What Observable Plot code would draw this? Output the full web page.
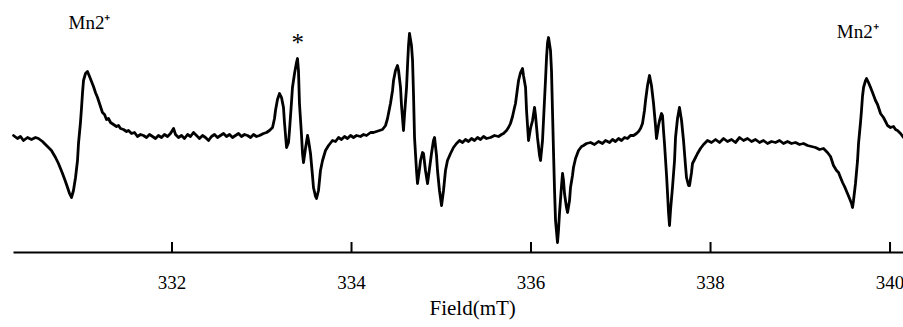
<!DOCTYPE html>
<html>
<head>
<meta charset="utf-8">
<script src="https://cdn.jsdelivr.net/npm/d3@7"></script>
<script src="https://cdn.jsdelivr.net/npm/@observablehq/plot@0.6"></script>
<style>
  html, body { margin: 0; padding: 0; background: #fff; }
  #chart svg { display: block; }
  #chart svg text { font-family: 'Liberation Serif', 'Times New Roman', serif; }
</style>
</head>
<body>
<div id="chart"></div>
<script>
// Magnetic field (mT) of each sampled point of the EPR trace
const field = [
330.234,330.278,330.312,330.345,330.390,330.434,330.479,330.512,330.557,330.590,
330.624,330.657,330.702,330.735,330.780,330.813,330.836,330.858,330.880,330.902,
330.925,330.947,330.958,330.980,330.992,331.003,331.014,331.036,331.058,331.081,
331.103,331.125,331.147,331.170,331.192,331.225,331.248,331.270,331.292,331.315,
331.348,331.381,331.404,331.426,331.459,331.493,331.515,331.549,331.582,331.615,
331.649,331.682,331.716,331.749,331.783,331.816,331.849,331.883,331.916,331.950,
331.983,332.017,332.039,332.072,332.106,332.139,332.173,332.206,332.239,332.273,
332.306,332.340,332.373,332.407,332.440,332.473,332.507,332.540,332.574,332.607,
332.641,332.674,332.707,332.741,332.774,332.808,332.841,332.875,332.908,332.941,
332.975,333.019,333.053,333.086,333.120,333.142,333.153,333.175,333.198,333.220,
333.242,333.253,333.276,333.298,333.309,333.331,333.342,333.365,333.387,333.398,
333.409,333.420,333.443,333.454,333.465,333.487,333.510,333.521,333.543,333.565,
333.576,333.599,333.610,333.632,333.654,333.677,333.710,333.744,333.788,333.822,
333.855,333.888,333.922,333.955,333.989,334.022,334.056,334.100,334.134,334.167,
334.212,334.245,334.278,334.312,334.345,334.379,334.401,334.423,334.434,334.457,
334.468,334.490,334.512,334.524,334.546,334.557,334.579,334.590,334.613,334.624,
334.635,334.646,334.668,334.680,334.691,334.702,334.724,334.735,334.758,334.769,
334.791,334.802,334.824,334.847,334.869,334.891,334.913,334.925,334.947,334.958,
334.980,335.003,335.025,335.047,335.069,335.103,335.136,335.170,335.203,335.237,
335.270,335.303,335.337,335.370,335.404,335.437,335.471,335.504,335.549,335.593,
335.638,335.671,335.693,335.727,335.749,335.771,335.794,335.816,335.827,335.849,
335.861,335.883,335.905,335.916,335.939,335.950,335.972,335.994,336.017,336.039,
336.050,336.072,336.095,336.106,336.128,336.139,336.161,336.173,336.184,336.195,
336.217,336.228,336.239,336.251,336.262,336.273,336.295,336.306,336.317,336.340,
336.351,336.362,336.373,336.395,336.407,336.429,336.440,336.462,336.473,336.496,
336.529,336.563,336.585,336.618,336.663,336.707,336.752,336.796,336.830,336.875,
336.908,336.941,336.975,337.008,337.042,337.075,337.108,337.142,337.175,337.198,
337.220,337.242,337.264,337.276,337.298,337.320,337.342,337.365,337.387,337.398,
337.420,337.432,337.454,337.465,337.476,337.487,337.510,337.521,337.532,337.543,
337.554,337.576,337.599,337.610,337.632,337.654,337.677,337.699,337.721,337.732,
337.755,337.766,337.788,337.799,337.833,337.855,337.888,337.922,337.966,338.011,
338.056,338.100,338.145,338.189,338.234,338.278,338.323,338.368,338.412,338.457,
338.501,338.546,338.590,338.635,338.679,338.724,338.769,338.813,338.858,338.902,
338.947,338.991,339.036,339.081,339.125,339.170,339.214,339.259,339.303,339.337,
339.370,339.404,339.426,339.448,339.471,339.493,339.526,339.549,339.571,339.582,
339.593,339.615,339.638,339.649,339.671,339.682,339.693,339.705,339.727,339.738,
339.760,339.783,339.805,339.838,339.861,339.894,339.927,339.950,339.972,340.005,
340.039,340.061,340.083,340.117,340.150
];

// First-derivative EPR signal (arbitrary units) at each field value
const signal = [
0,-3,-1,-5,-2,-4,-2,-3,-6,-9,
-12,-15,-22,-28,-38,-46,-52,-58,-62,-55,
-42,-25,-8,13,28,43,55,62,64,59,
54,49,43,38,32,23,21,16,17,13,
11,9,10,7,6,4,5,2,3,-1,
1,0,-2,1,-1,-3,0,-2,1,-1,
2,7,1,-2,0,-3,1,-1,3,0,
-3,0,-2,-5,-1,1,-2,0,2,-1,
1,-2,0,2,-1,1,0,-2,1,-1,
0,2,3,5,8,17,25,36,42,38,
28,13,-12,-7,5,33,48,62,73,77,
65,32,0,-18,-27,-13,0,-5,-18,-40,
-52,-61,-63,-55,-35,-25,-15,-10,-5,-6,
-2,-4,-1,-3,0,-2,0,-1,1,0,
3,3,4,5,6,10,17,27,32,45,
55,65,70,65,48,30,5,20,48,70,
90,102,90,75,40,-2,-35,-48,-33,-25,
-17,-18,-35,-48,-33,-18,-5,-2,-20,-35,
-55,-70,-55,-35,-25,-18,-12,-8,-5,-7,
-4,-6,-3,-5,-2,-4,-1,-3,-2,0,
-1,1,2,5,8,12,19,28,32,47,
55,63,67,60,48,25,-5,7,15,28,
20,-2,-20,-25,-5,15,55,78,93,98,
85,65,25,-18,-55,-85,-107,-95,-78,-50,
-38,-45,-58,-72,-77,-65,-52,-40,-32,-23,
-15,-11,-10,-8,-7,-9,-6,-8,-5,-7,
-4,-6,-3,-5,-2,-3,0,0,2,4,
7,12,25,35,50,60,50,32,10,-3,
10,15,22,20,5,-8,-40,-58,-77,-90,
-75,-52,-25,-2,17,28,15,-5,-30,-42,
-50,-50,-37,-28,-22,-18,-13,-9,-5,-7,
-4,-7,-3,-6,-4,-7,-2,-5,-3,-6,
-4,-7,-5,-8,-6,-7,-5,-8,-6,-8,
-7,-9,-8,-10,-11,-12,-14,-13,-17,-21,
-30,-35,-37,-42,-47,-51,-58,-63,-68,-72,
-65,-48,-25,-8,13,25,39,48,55,57,
53,48,43,35,31,22,18,14,10,8,
9,6,5,2,-2
];

// Axis tick values (mT)
const tickValues = [332, 334, 336, 338, 340];

// Annotations
const noteLabels = ["Mn2\u207A", "*", "Mn2\u207A"];
const noteField  = [331.08, 333.40, 339.64];
const noteSignal = [113, 93, 104];

const serif = "'Liberation Serif', 'Times New Roman', serif";
const trace = field.map((f, i) => ({field: f, signal: signal[i]}));
const notes = noteLabels.map((t, i) => ({label: t, field: noteField[i], signal: noteSignal[i]}));

const chart = Plot.plot({
  width: 903,
  height: 327,
  marginLeft: 14,
  marginRight: 0,
  marginTop: 0,
  marginBottom: 75,
  style: {background: "#fff", color: "#000", fontFamily: serif, overflow: "visible"},
  x: {domain: [330.245, 340.15]},
  y: {domain: [-117, 135], axis: null},
  marks: [
    Plot.frame({anchor: "bottom", strokeWidth: 2, stroke: "#000"}),
    Plot.axisX({ticks: tickValues, tickSize: -10, strokeWidth: 2, tickFormat: () => "", label: null}),
    Plot.axisX({ticks: tickValues, tickSize: 0, tickPadding: 23, fontSize: 19, fontFamily: serif, label: null}),
    Plot.line(trace, {x: "field", y: "signal", stroke: "#000", strokeWidth: 2.8, strokeLinejoin: "round"}),
    Plot.text(notes.filter(d => d.label !== "*"), {x: "field", y: "signal", text: "label", fontSize: 19, fontFamily: serif, fill: "#000"}),
    Plot.text(notes.filter(d => d.label === "*"), {x: "field", y: "signal", text: "label", fontSize: 25, fontFamily: serif, fill: "#000"}),
    Plot.text(["Field(mT)"], {x: 335.35, frameAnchor: "bottom", dy: 62, fontSize: 21, fontFamily: serif, fill: "#000"})
  ]
});

document.getElementById("chart").appendChild(chart);
</script>
</body>
</html>
